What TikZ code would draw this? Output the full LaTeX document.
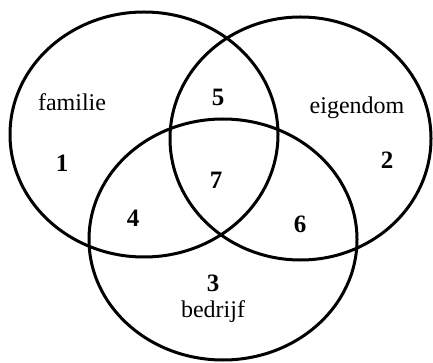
\documentclass[tikz,border=0pt]{standalone}
\usepackage{fontspec}
\setmainfont{Liberation Serif}
\begin{document}
\begin{tikzpicture}[x=1pt,y=-1pt,
  ring/.style={draw=black,line width=3pt},
  word/.style={font=\fontsize{24}{26}\selectfont,inner sep=0pt},
  num/.style={font=\fontsize{25}{26}\selectfont\bfseries,inner sep=0pt}]
\useasboundingbox (0,0) rectangle (433,363);
\path[ring] (144,134.5) ellipse [x radius=134, y radius=122.5];
\path[ring] (300.5,138.5) ellipse [x radius=130.5, y radius=121.5];
\path[ring] (223,239.5) ellipse [x radius=134, y radius=120.5];
\node[word] (familie) at (72,102) {familie};
\node[word] (eigendom) at (357,108) {eigendom};
\node[word] (bedrijf) at (213,312) {bedrijf};
\node[num] (n1) at (62,163) {1};
\node[num] (n2) at (387,160) {2};
\node[num] (n3) at (213,283) {3};
\node[num] (n4) at (133,218) {4};
\node[num] (n5) at (218,97) {5};
\node[num] (n6) at (300,224) {6};
\node[num] (n7) at (216,180) {7};
\end{tikzpicture}
\end{document}
